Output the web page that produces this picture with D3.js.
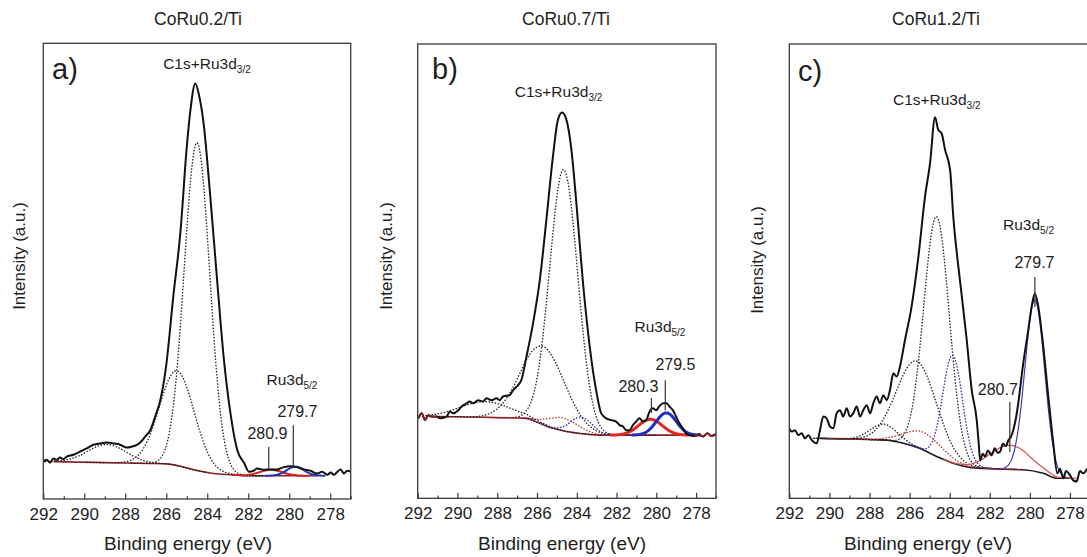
<!DOCTYPE html>
<meta charset="utf-8">
<style>
body { margin: 0; background: #fff; }
text { font-family: "Liberation Sans", Arial, sans-serif; fill: #1e1e1e; }
</style>
<body>
<script src="https://cdn.jsdelivr.net/npm/d3@7"></script>
<script>

var width = 1087,
  height = 557;

// binding energy axis (eV)
var xTicks = [292, 290, 288, 286, 284, 282, 280, 278];
var xMinor = [291, 289, 287, 285, 283, 281, 279, 277];

var titles = ["CoRu0.2/Ti", "CoRu0.7/Ti", "CoRu1.2/Ti"];
var letters = ["a)", "b)", "c)"];

// measured spectra, [BE, intensity] (intensity in % of frame height)
var specA = [[292.0,8.2],[291.84,8.6],[291.67,8.0],[291.51,8.9],[291.35,8.6],[291.18,9.1],[291.02,8.7],[290.86,9.3],[290.53,9.7],[290.21,10.4],[289.88,11.1],[289.55,11.9],[289.23,12.2],[288.9,12.4],[288.58,12.2],[288.25,11.9],[287.92,11.3],[287.68,11.5],[287.43,11.9],[287.27,12.4],[287.03,13.7],[286.78,15.1],[286.54,18.1],[286.29,21.7],[286.0,29.4],[285.66,44.3],[285.3,59.0],[285.0,77.2],[284.83,85.0],[284.58,91.2],[284.4,88.6],[284.18,82.5],[283.85,66.3],[283.52,48.1],[283.2,31.2],[282.87,18.9],[282.54,10.8],[282.2,7.9],[281.97,6.0],[281.73,6.2],[281.57,6.7],[281.24,6.4],[280.91,6.5],[280.59,6.5],[280.26,7.0],[279.94,7.2],[279.61,7.0],[279.29,6.5],[278.96,6.2],[278.63,5.6],[278.39,6.0],[278.14,5.3],[277.98,5.8],[277.82,5.3],[277.65,6.0],[277.49,6.5],[277.33,5.6],[277.17,6.2],[277.0,6.0]];

var specB = [[291.97,17.6],[291.8,18.7],[291.63,17.2],[291.47,18.3],[291.3,18.0],[291.05,18.0],[290.88,17.6],[290.55,18.0],[290.38,19.1],[290.21,18.7],[289.96,19.4],[289.79,20.2],[289.54,20.9],[289.38,21.3],[289.21,20.9],[288.96,21.6],[288.71,21.3],[288.54,22.0],[288.29,21.6],[288.04,22.0],[287.87,21.6],[287.71,22.4],[287.37,22.7],[287.2,23.8],[286.95,24.9],[286.79,26.0],[286.53,31.2],[286.2,38.5],[285.86,48.0],[285.53,61.3],[285.2,75.2],[284.95,83.3],[284.74,84.9],[284.52,83.3],[284.27,76.7],[284.02,64.9],[283.7,48.0],[283.35,33.4],[283.0,23.1],[282.77,18.7],[282.52,17.6],[282.27,17.2],[282.02,16.9],[281.85,16.1],[281.68,15.8],[281.51,15.0],[281.35,15.0],[281.18,16.1],[281.01,16.9],[280.85,17.6],[280.68,16.9],[280.51,17.2],[280.34,19.1],[280.18,19.8],[280.01,19.4],[279.84,20.3],[279.68,20.9],[279.51,21.0],[279.34,20.2],[279.17,19.4],[279.01,18.0],[278.84,16.5],[278.67,15.4],[278.51,14.3],[278.34,13.9],[278.09,13.7],[277.84,14.1],[277.67,13.6],[277.42,14.3],[277.25,13.7],[277.0,14.1]];

var specC = [[292.0,15.4],[291.88,14.7],[291.72,15.0],[291.55,13.9],[291.38,14.3],[291.22,13.2],[291.05,13.9],[290.88,12.8],[290.63,12.1],[290.47,15.0],[290.3,18.0],[290.14,17.6],[289.97,15.8],[289.8,15.4],[289.64,18.7],[289.47,19.4],[289.31,18.0],[289.14,19.8],[288.97,18.0],[288.81,18.7],[288.64,20.2],[288.47,18.0],[288.31,19.4],[288.14,20.5],[287.97,18.7],[287.81,20.9],[287.64,22.4],[287.48,20.9],[287.31,22.7],[287.14,21.6],[286.98,23.8],[286.81,27.5],[286.64,26.8],[286.48,29.0],[286.23,34.8],[285.9,42.2],[285.56,53.2],[285.23,66.4],[284.98,73.7],[284.73,83.9],[284.57,81.1],[284.4,80.3],[284.23,76.7],[283.98,72.3],[283.82,62.0],[283.49,48.1],[283.15,34.9],[282.9,23.8],[282.65,17.2],[282.55,12.0],[282.48,8.4],[282.35,9.8],[282.23,9.2],[282.1,10.5],[281.9,9.5],[281.75,11.0],[281.6,10.0],[281.48,10.3],[281.35,12.0],[281.2,11.5],[281.07,12.8],[280.95,13.5],[280.83,15.0],[280.7,17.5],[280.58,20.9],[280.33,29.7],[280.08,37.0],[279.9,42.5],[279.75,45.1],[279.58,42.2],[279.33,33.4],[279.08,22.4],[278.83,12.1],[278.63,5.5],[278.5,6.5],[278.33,4.4],[278.2,6.0],[278.0,5.1],[277.85,4.0],[277.67,3.7],[277.5,6.0],[277.33,5.5],[277.15,6.5]];

// Shirley backgrounds
var bgA = [[291.5,8.2],[286.8,7.8],[285.97,7.7],[285.32,7.2],[284.67,6.4],[283.7,5.6],[282.7,5.3],[282.07,5.1],[278.63,5.1]];
var bgB = [[291.1,18.0],[286.53,17.6],[285.86,16.5],[285.2,15.4],[284.52,14.7],[283.7,14.2],[282.84,13.9],[278.17,13.9]];
var bgC = [[290.47,13.2],[287.15,12.8],[286.3,12.1],[285.5,11.0],[284.65,9.2],[283.82,7.7],[283.0,6.8],[281.31,6.4],[280.33,6.3],[279.33,5.5],[278.66,4.4],[278.0,4.4]];

// fitted components: [centre BE, height above background, FWHM, kind]
var compA = [[284.5,71.9,1.47,"k"],[285.48,20.8,2.0,"k"],[288.9,4.0,2.2,"k"],[280.9,1.3,1.3,"r"],[279.7,2.0,1.0,"b"]];
var compB = [[284.66,57.5,1.67,"k"],[285.7,17.2,2.6,"k"],[288.6,3.5,3.0,"k"],[284.7,2.8,1.8,"rd"],[283.77,3.6,1.3,"bd"],[280.3,3.5,1.4,"r"],[279.5,4.9,1.2,"b"]];
var compC = [[284.65,52.8,1.5,"k"],[285.64,19.0,2.33,"k"],[287.3,3.5,1.6,"k"],[283.85,23.7,1.16,"bd"],[285.3,3.9,2.2,"rd"],[281.0,5.3,2.3,"r"],[279.75,37.8,1.15,"b"]];

// Ru 3d5/2 marker lines: [BE of line, label]
var peaksA = [[279.8,"279.7"],[281.0,"280.9"]];
var peaksB = [[279.55,"279.5"],[280.25,"280.3"]];
var peaksC = [[279.75,"279.7"],[281.0,"280.7"]];

var panels = [
  {spec: specA, bg: bgA, comp: compA, peaks: peaksA},
  {spec: specB, bg: bgB, comp: compB, peaks: peaksB},
  {spec: specC, bg: bgC, comp: compC, peaks: peaksC}
];

// layout: frame pixels, text anchors in data units
var layout = [
  {left: 43.3, right: 350.7, top: 43.3, bottom: 499, yLabX: 25, yLabY: 256, xLab: 188, title: 198,
   letter: [291.57, 92.2], main: [286.15, 94.4], ru: [281.11, 25.0],
   marks: [{lab: [279.6, 18.0], line: [16.2, 7.0]}, {lab: [281.06, 13.2], line: [11.4, 6.4]}],
   bgColor: "#8b1f1f", ruWidth: 2, red: "#cc2222", blue: "#2233bb", redEdges: false},
  {left: 417.7, right: 716, top: 44, bottom: 498.3, yLabX: 392, yLabY: 256, xLab: 562, title: 566,
   letter: [291.28, 92.2], main: [287.12, 88.3], ru: [281.1, 36.6],
   marks: [{lab: [279.04, 28.2], line: [26.0, 19.4]}, {lab: [280.9, 23.4], line: [22.1, 18.8]}],
   bgColor: "#8b1f1f", ruWidth: 3, red: "#e3261f", blue: "#1f2fbf", redEdges: true},
  {left: 789.3, right: 1090, top: 44, bottom: 498.3, yLabX: 763, yLabY: 260, xLab: 928, title: 936,
   letter: [291.57, 91.8], main: [286.83, 86.6], ru: [281.34, 59.1],
   marks: [{lab: [279.77, 50.7], line: [48.7, 42.1]}, {lab: [281.6, 22.7], line: [21.2, 10.2]}],
   bgColor: "#1a1a1a", ruWidth: 1.2, red: "#d4504a", blue: "#3b3bbf", redEdges: false}
];

var svg = d3.select("body").append("svg")
  .attr("width", width)
  .attr("height", height);

function bgAt(bg, e) {
  if (e >= bg[0][0]) return bg[0][1];
  if (e <= bg[bg.length - 1][0]) return bg[bg.length - 1][1];
  for (var i = 1; i < bg.length; i++) {
    if (e >= bg[i][0]) {
      var t = (bg[i - 1][0] - e) / (bg[i - 1][0] - bg[i][0]);
      return bg[i - 1][1] + t * (bg[i][1] - bg[i - 1][1]);
    }
  }
}

panels.forEach(function(p, i) {
  var L = layout[i];

  var x = d3.scaleLinear().domain([292, 277]).range([L.left, L.right]);
  var y = d3.scaleLinear().domain([0, 100]).range([L.bottom, L.top]);

  var g = svg.append("g");

  g.append("clipPath").attr("id", "clip" + i)
    .append("rect")
    .attr("x", L.left).attr("y", L.top)
    .attr("width", L.right - L.left).attr("height", L.bottom - L.top);

  var plot = g.append("g").attr("clip-path", "url(#clip" + i + ")");

  var line = d3.line()
    .x(function(d) { return x(d[0]); })
    .y(function(d) { return y(d[1]); });

  // background
  plot.append("path")
    .datum(p.bg)
    .attr("fill", "none")
    .attr("stroke", L.bgColor)
    .attr("stroke-width", 1.6)
    .attr("d", line.curve(d3.curveMonotoneX));

  // components sit on the background
  p.comp.forEach(function(c) {
    var pts = [];
    var solid = (c[3] == "r" || c[3] == "b");
    var half = (solid ? 1.45 : 2.2) * c[2];
    for (var e = c[0] + half; e >= c[0] - half; e -= 0.02) {
      var gv = c[1] * Math.exp(-4 * Math.LN2 * (e - c[0]) * (e - c[0]) / (c[2] * c[2]));
      pts.push([e, bgAt(p.bg, e) + gv]);
    }
    var col = "#222", dash = "1.5 1.6", sw = 1.3;
    if (c[3] == "rd") { col = "#c43030"; }
    if (c[3] == "bd") { col = "#2a2aa8"; }
    if (c[3] == "r") { col = L.red; dash = null; sw = L.ruWidth; }
    if (c[3] == "b") { col = L.blue; dash = null; sw = L.ruWidth; }
    plot.append("path")
      .datum(pts)
      .attr("fill", "none")
      .attr("stroke", col)
      .attr("stroke-width", sw)
      .attr("stroke-dasharray", dash)
      .attr("d", line.curve(d3.curveLinear));
  });

  // measured spectrum
  line.curve(d3.curveMonotoneX);
  plot.append("path")
    .datum(p.spec)
    .attr("fill", "none")
    .attr("stroke", "#111")
    .attr("stroke-width", 2)
    .attr("stroke-linejoin", "round")
    .attr("d", line);

  // raw data outside the fitted window drawn in the background colour
  if (L.redEdges) {
    var lo = p.bg[p.bg.length - 1][0], hi = p.bg[0][0];
    [p.spec.filter(function(d) { return d[0] >= hi - 0.1; }),
     p.spec.filter(function(d) { return d[0] <= lo + 0.1; })].forEach(function(seg) {
      plot.append("path")
        .datum(seg)
        .attr("fill", "none")
        .attr("stroke", L.bgColor)
        .attr("stroke-width", 1.8)
        .attr("d", line);
    });
  }

  // frame
  g.append("rect")
    .attr("x", L.left).attr("y", L.top)
    .attr("width", L.right - L.left).attr("height", L.bottom - L.top)
    .attr("fill", "none")
    .attr("stroke", "#3a3a3a")
    .attr("stroke-width", 1.3);

  // axis, ticks pointing inward
  var ax = g.append("g")
    .attr("transform", "translate(0," + L.bottom + ")")
    .call(d3.axisBottom(x).tickValues(xTicks).tickSizeInner(-5.5).tickSizeOuter(0).tickPadding(9).tickFormat(d3.format("d")));
  ax.select(".domain").remove();
  ax.selectAll("text").style("font-size", "17px").style("font-family", "Liberation Sans, Arial, sans-serif").attr("fill", "#1e1e1e");
  ax.selectAll("line").attr("stroke", "#3a3a3a").attr("stroke-width", 1.2);

  var axm = g.append("g")
    .attr("transform", "translate(0," + L.bottom + ")")
    .call(d3.axisBottom(x).tickValues(xMinor).tickSizeInner(-2.8).tickSizeOuter(0).tickFormat(""));
  axm.select(".domain").remove();
  axm.selectAll("line").attr("stroke", "#3a3a3a").attr("stroke-width", 1.2);

  // titles and axis labels
  g.append("text")
    .attr("x", L.title).attr("y", 25)
    .attr("text-anchor", "middle")
    .style("font-size", "17.5px")
    .text(titles[i]);

  g.append("text")
    .attr("x", L.xLab).attr("y", 550)
    .attr("text-anchor", "middle")
    .style("font-size", "19px")
    .text("Binding energy (eV)");

  g.append("text")
    .attr("transform", "translate(" + L.yLabX + "," + L.yLabY + ") rotate(-90)")
    .attr("text-anchor", "middle")
    .style("font-size", "17px")
    .text("Intensity (a.u.)");

  g.append("text")
    .attr("x", x(L.letter[0])).attr("y", y(L.letter[1]))
    .style("font-size", "29px")
    .text(letters[i]);

  var t1 = g.append("text")
    .attr("x", x(L.main[0])).attr("y", y(L.main[1]))
    .style("font-size", "15.5px");
  t1.append("tspan").text("C1s+Ru3d");
  t1.append("tspan").attr("dy", 4).style("font-size", "10px").text("3/2");

  var t2 = g.append("text")
    .attr("x", x(L.ru[0])).attr("y", y(L.ru[1]))
    .style("font-size", "15.5px");
  t2.append("tspan").text("Ru3d");
  t2.append("tspan").attr("dy", 4).style("font-size", "10px").text("5/2");

  // peak position markers
  p.peaks.forEach(function(pk, k) {
    var m = L.marks[k];
    g.append("line")
      .attr("x1", x(pk[0])).attr("x2", x(pk[0]))
      .attr("y1", y(m.line[0])).attr("y2", y(m.line[1]))
      .attr("stroke", "#333")
      .attr("stroke-width", 1.2);
    g.append("text")
      .attr("x", x(m.lab[0])).attr("y", y(m.lab[1]))
      .attr("text-anchor", "middle")
      .style("font-size", "16px")
      .text(pk[1]);
  });
});

</script>
</body>
</html>
